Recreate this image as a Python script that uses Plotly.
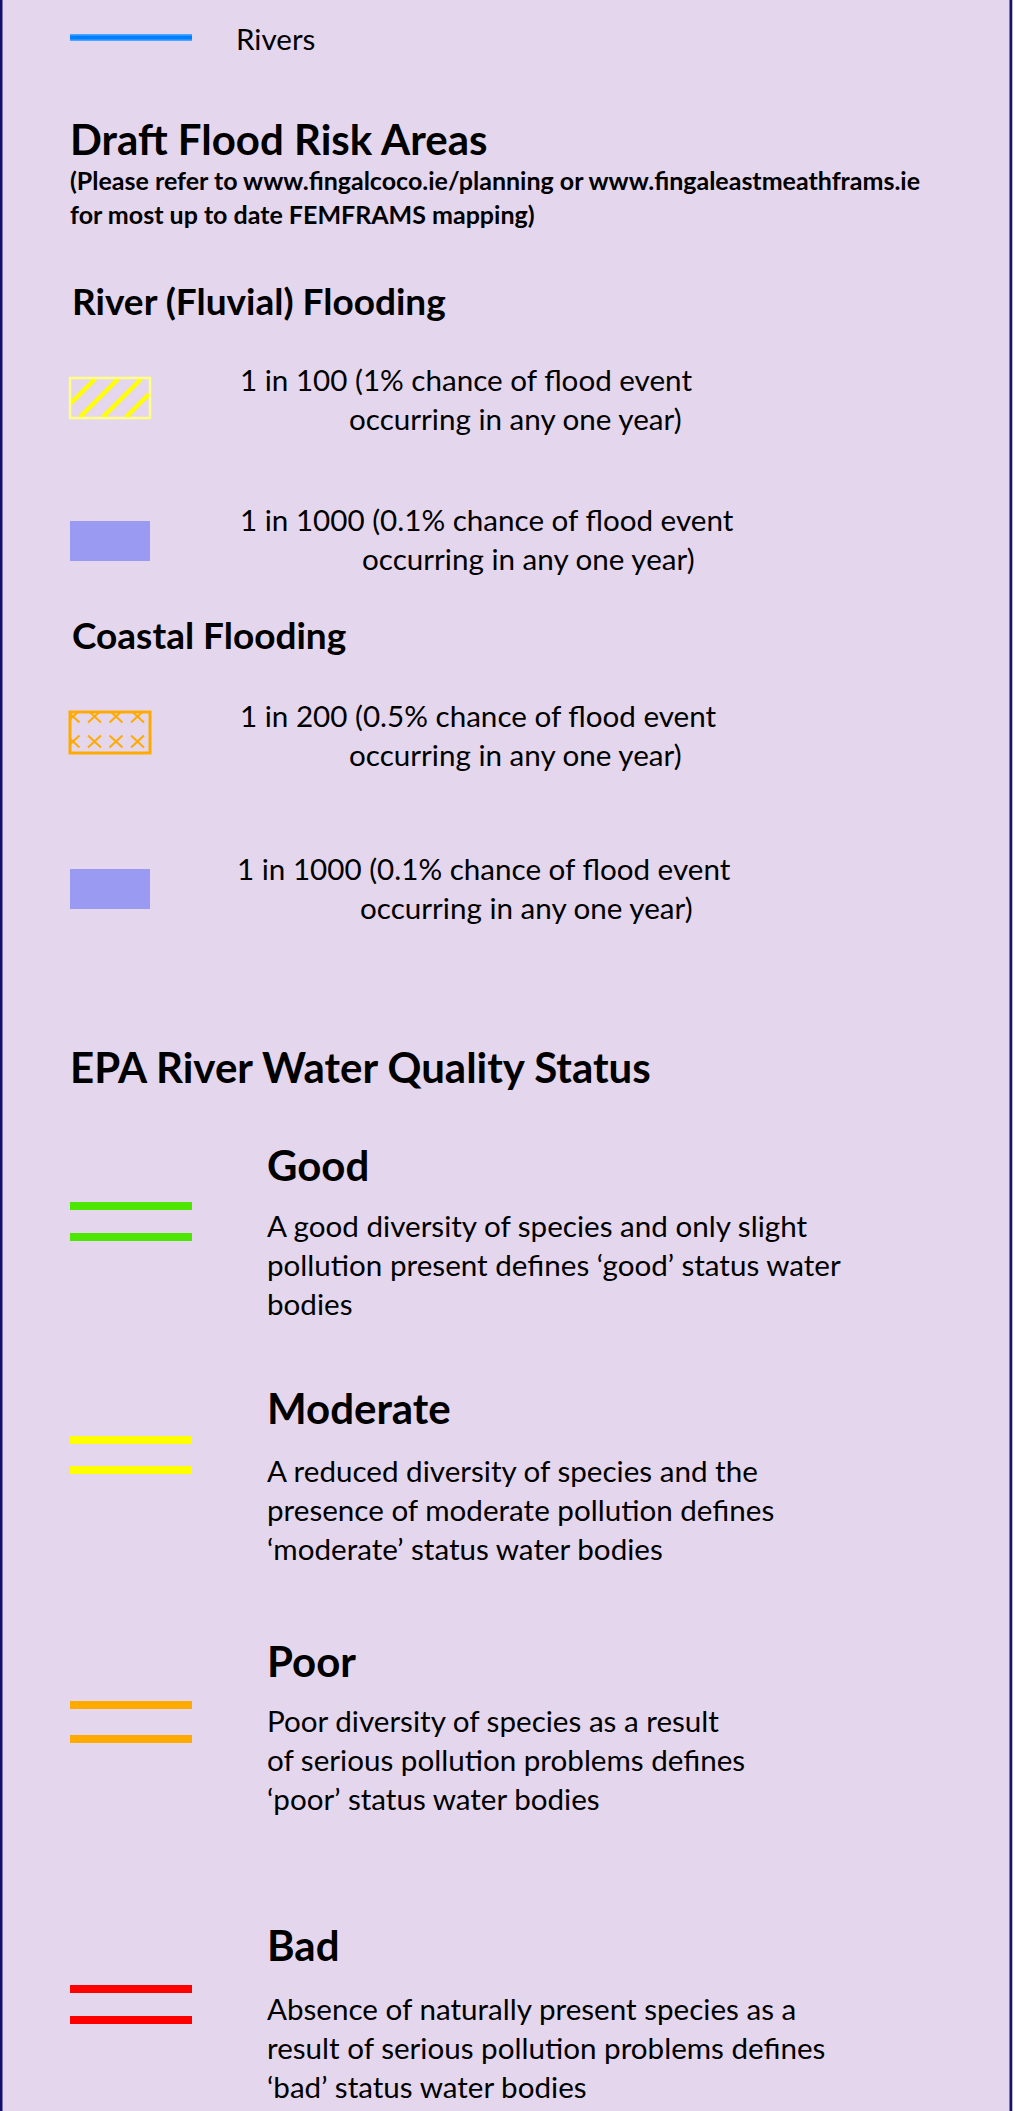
import plotly.graph_objects as go

# ---------------- content ----------------
rivers_label = "Rivers"
flood_title = "Draft Flood Risk Areas"
flood_note = ["(Please refer to www.fingalcoco.ie/planning or www.fingaleastmeathframs.ie",
              "for most up to date FEMFRAMS mapping)"]
fluvial_title = "River (Fluvial) Flooding"
coastal_title = "Coastal Flooding"
fluvial_labels = [["1 in 100 (1% chance of flood event", "occurring in any one year)"],
                  ["1 in 1000 (0.1% chance of flood event", "occurring in any one year)"]]
coastal_labels = [["1 in 200 (0.5% chance of flood event", "occurring in any one year)"],
                  ["1 in 1000 (0.1% chance of flood event", "occurring in any one year)"]]
epa_title = "EPA River Water Quality Status"
epa_status = ["Good", "Moderate", "Poor", "Bad"]
epa_colors = ["#4CE600", "#FFFF00", "#FFAA00", "#FF0000"]
epa_desc = [
    ["A good diversity of species and only slight",
     "pollution present defines \u2018good\u2019 status water",
     "bodies"],
    ["A reduced diversity of species and the",
     "presence of moderate pollution defines",
     "\u2018moderate\u2019 status water bodies"],
    ["Poor diversity of species as a result",
     "of serious pollution problems defines",
     "\u2018poor\u2019 status water bodies"],
    ["Absence of naturally present species as a",
     "result of serious pollution problems defines",
     "\u2018bad\u2019 status water bodies"],
]

# ---------------- layout constants ----------------
W, H = 1016, 2111
BG = "#E4D6EC"
NAVY = "#12126E"
FONT = "Lato"
BODY = 29.6
HEAD = 42
SUB = 37
NOTE = 25
TXT_DX = -3                 # compensate annotation padding
SW_X0, SW_X1 = 70, 192      # line swatch
BX0, BX1 = 70, 150          # box swatch

fig = go.Figure()
shapes = []
ann = []


def text(x, y, s, size=BODY, bold=False):
    ann.append(dict(x=x + TXT_DX, y=y, xref="x", yref="y",
                    text=("<b>%s</b>" % s) if bold else s,
                    showarrow=False, xanchor="left", yanchor="middle",
                    font=dict(family=FONT, size=size, color="#000000")))


def hline(y, color, width):
    shapes.append(dict(type="line", x0=SW_X0, x1=SW_X1, y0=y, y1=y, xref="x", yref="y",
                       line=dict(color=color, width=width)))


def clip(x0, y0, x1, y1, xmin, xmax, ymin, ymax):
    # Liang-Barsky segment clipping
    dx, dy = x1 - x0, y1 - y0
    t0, t1 = 0.0, 1.0
    for p, q in ((-dx, x0 - xmin), (dx, xmax - x0), (-dy, y0 - ymin), (dy, ymax - y0)):
        if p == 0:
            if q < 0:
                return None
        else:
            t = q / p
            if p < 0:
                t0 = max(t0, t)
            else:
                t1 = min(t1, t)
    if t0 > t1:
        return None
    return (x0 + t0 * dx, y0 + t0 * dy, x0 + t1 * dx, y0 + t1 * dy)


def seg(s, color, width):
    if s is None:
        return
    shapes.append(dict(type="line", x0=s[0], y0=s[1], x1=s[2], y1=s[3], xref="x", yref="y",
                       line=dict(color=color, width=width)))


# border
shapes.append(dict(type="rect", x0=0, x1=2.5, y0=0, y1=H, xref="x", yref="y",
                   fillcolor=NAVY, line=dict(width=0)))
shapes.append(dict(type="rect", x0=1009.5, x1=1012.5, y0=0, y1=H, xref="x", yref="y",
                   fillcolor=NAVY, line=dict(width=0)))
shapes.append(dict(type="rect", x0=1012.5, x1=W, y0=0, y1=H, xref="x", yref="y",
                   fillcolor="#FFFFFF", line=dict(width=0)))

# rivers
hline(37.5, "#4DA6FF", 7)
hline(37.5, "#0080FF", 4)
text(237, 38, rivers_label)

# flood section
text(71, 139, flood_title, size=HEAD, bold=True)
text(71, 180, flood_note[0], size=NOTE, bold=True)
text(71, 214, flood_note[1], size=NOTE, bold=True)
text(73, 300, fluvial_title, size=SUB, bold=True)


def hatch_box(y0, y1):
    # diagonal yellow stripes clipped to box
    for k in range(-1, 4):
        xb = 80 + 23 * k
        seg(clip(xb, y1 - 1, xb + 60, y1 - 61, BX0 + 1, BX1 - 1, y0 + 1, y1 - 1), "#FFFF00", 4.5)
    shapes.append(dict(type="rect", x0=BX0, x1=BX1, y0=y0, y1=y1, xref="x", yref="y",
                       line=dict(color="#FFFF88", width=2.5)))


def cross_box(y0, y1):
    for cy in (y0 + 4.5, y0 + 29.5):
        for cx in (73, 94.5, 116, 137.5):
            for sx in (-1, 1):
                seg(clip(cx - 6.5, cy - 6 * sx, cx + 6.5, cy + 6 * sx,
                         BX0, BX1, y0, y1), "#FFAA00", 2)
    shapes.append(dict(type="rect", x0=BX0, x1=BX1, y0=y0, y1=y1, xref="x", yref="y",
                       line=dict(color="#FFAA00", width=3)))


def solid_box(y0, y1, color):
    shapes.append(dict(type="rect", x0=BX0, x1=BX1, y0=y0, y1=y1, xref="x", yref="y",
                       fillcolor=color, line=dict(width=0)))


hatch_box(378, 418)
text(241, 379, fluvial_labels[0][0])
text(350, 418, fluvial_labels[0][1])

solid_box(521, 561, "#9A9AF3")
text(241, 519, fluvial_labels[1][0])
text(363, 558, fluvial_labels[1][1])

text(73, 634, coastal_title, size=SUB, bold=True)

cross_box(712, 753)
text(241, 715, coastal_labels[0][0])
text(350, 754, coastal_labels[0][1])

solid_box(869, 909, "#9A9AF3")
text(238, 868, coastal_labels[1][0])
text(361, 907, coastal_labels[1][1])

# EPA section
text(71, 1067, epa_title, size=HEAD, bold=True)

title_y = [1165, 1408, 1661, 1945]
line_y = [(1206, 1237), (1440, 1470), (1705, 1739), (1989, 2020)]
desc_y = [1225, 1470, 1720, 2008]
for i, status in enumerate(epa_status):
    text(268, title_y[i], status, size=HEAD, bold=True)
    for ly in line_y[i]:
        hline(ly, epa_colors[i], 8)
    for j, line in enumerate(epa_desc[i]):
        text(268, desc_y[i] + 39 * j, line)

# invisible trace so the axes are established
fig.add_trace(go.Scatter(x=[0, W], y=[0, H], mode="markers", marker=dict(opacity=0),
                         hoverinfo="skip", showlegend=False))

fig.update_layout(
    width=W, height=H, margin=dict(l=0, r=0, t=0, b=0),
    paper_bgcolor=BG, plot_bgcolor=BG,
    xaxis=dict(range=[0, W], visible=False, fixedrange=True),
    yaxis=dict(range=[H, 0], visible=False, fixedrange=True),
    shapes=shapes, annotations=ann, showlegend=False,
)
fig.write_html("out.html", config={"displayModeBar": False},
               post_script="document.body.style.margin='0';document.body.style.overflow='hidden';")
